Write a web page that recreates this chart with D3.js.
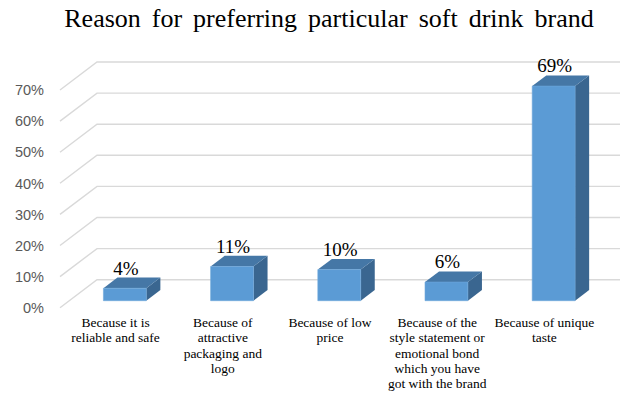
<!DOCTYPE html>
<html>
<head>
<meta charset="utf-8">
<script src="https://cdn.jsdelivr.net/npm/d3@7"></script>
<style>
  html, body { margin: 0; padding: 0; background: #fff; }
  svg { display: block; }
</style>
</head>
<body>
<svg id="chart" width="620" height="398"></svg>
<script>
// Survey answers: why respondents prefer a particular soft drink brand
const categories = [
  "Because it is\nreliable and safe",
  "Because of\nattractive\npackaging and\nlogo",
  "Because of low\nprice",
  "Because of the\nstyle statement or\nemotional bond\nwhich you have\ngot with the brand",
  "Because of unique\ntaste"
];
const shares = [0.04, 0.11, 0.10, 0.06, 0.69];
const yTicks = [0, 0.1, 0.2, 0.3, 0.4, 0.5, 0.6, 0.7];
const title = "Reason for preferring particular soft drink brand";

const SERIF = "'Liberation Serif', 'Times New Roman', Times, serif";
const SANS = "'Liberation Sans', Arial, sans-serif";

const svg = d3.select("#chart");
const pct = d3.format(".0%");

// 3D layout: front plane plus an oblique depth offset
const depthX = 37, depthY = -28;
const wallX = 60, rightX = 620;
const barDepthStart = 0.25, barDepthEnd = 0.63;

const y = d3.scaleLinear().domain([0, 0.7]).range([307.7, 90]);
const x = d3.scaleBand().domain(categories).range([62, 598])
  .paddingInner(0.6).paddingOuter(0.3);

const proj = (px, v, d) => [px + depthX * d, y(v) + depthY * d];

// Title
svg.append("text")
  .attr("x", 329).attr("y", 27)
  .attr("text-anchor", "middle")
  .style("font-family", SERIF)
  .style("font-size", "26px")
  .style("word-spacing", "4.5px")
  .attr("fill", "#000")
  .text(title);

// Gridlines: side wall diagonals and back wall horizontals
const grid = svg.append("g").attr("stroke", "#d9d9d9").attr("stroke-width", 1.4).attr("fill", "none");
yTicks.forEach(t => {
  const a = proj(wallX, t, 0), b = proj(wallX, t, 1);
  grid.append("path").attr("d", `M${a[0]},${a[1]}L${b[0]},${b[1]}L${rightX},${b[1]}`);
});

// Y axis labels
svg.append("g").selectAll("text").data(yTicks).join("text")
  .attr("x", 44).attr("y", d => y(d))
  .attr("dy", "0.36em")
  .attr("text-anchor", "end")
  .style("font-family", SANS)
  .style("font-size", "14.5px")
  .attr("fill", "#595959")
  .text(d => pct(d));

// Bars drawn as prisms
const bars = svg.append("g");
categories.forEach((c, i) => {
  const v = shares[i];
  const x0 = x(c), x1 = x(c) + x.bandwidth();
  const f0 = proj(x0, 0, barDepthStart), f1 = proj(x1, 0, barDepthStart);
  const t0 = proj(x0, v, barDepthStart), t1 = proj(x1, v, barDepthStart);
  const b0 = proj(x0, v, barDepthEnd), b1 = proj(x1, v, barDepthEnd);
  const s1 = proj(x1, 0, barDepthEnd);
  const g = bars.append("g");
  // side face
  g.append("path")
    .attr("d", `M${f1}L${t1}L${b1}L${s1}Z`)
    .attr("fill", "#3a6690");
  // top face
  g.append("path")
    .attr("d", `M${t0}L${t1}L${b1}L${b0}Z`)
    .attr("fill", "#4577a6");
  // front face
  g.append("path")
    .attr("d", `M${f0}L${f1}L${t1}L${t0}Z`)
    .attr("fill", "#5b9bd5")
    .attr("stroke", "#6fa8dc").attr("stroke-width", 0.6);
  // value label
  g.append("text")
    .attr("x", (t0[0] + t1[0]) / 2 + 1)
    .attr("y", b0[1] - 3)
    .attr("text-anchor", "middle")
    .style("font-family", SERIF)
    .style("font-size", "19px")
    .attr("fill", "#000")
    .text(pct(v));
});

// Category labels on the front plane
const catG = svg.append("g");
categories.forEach(c => {
  const cx = x(c) + x.bandwidth() / 2;
  const t = catG.append("text")
    .attr("text-anchor", "middle")
    .style("font-family", SERIF)
    .style("font-size", "13.5px")
    .attr("fill", "#000");
  c.split("\n").forEach((line, k) => {
    t.append("tspan").attr("x", cx).attr("y", 327 + k * 15.3).text(line);
  });
});
</script>
</body>
</html>
